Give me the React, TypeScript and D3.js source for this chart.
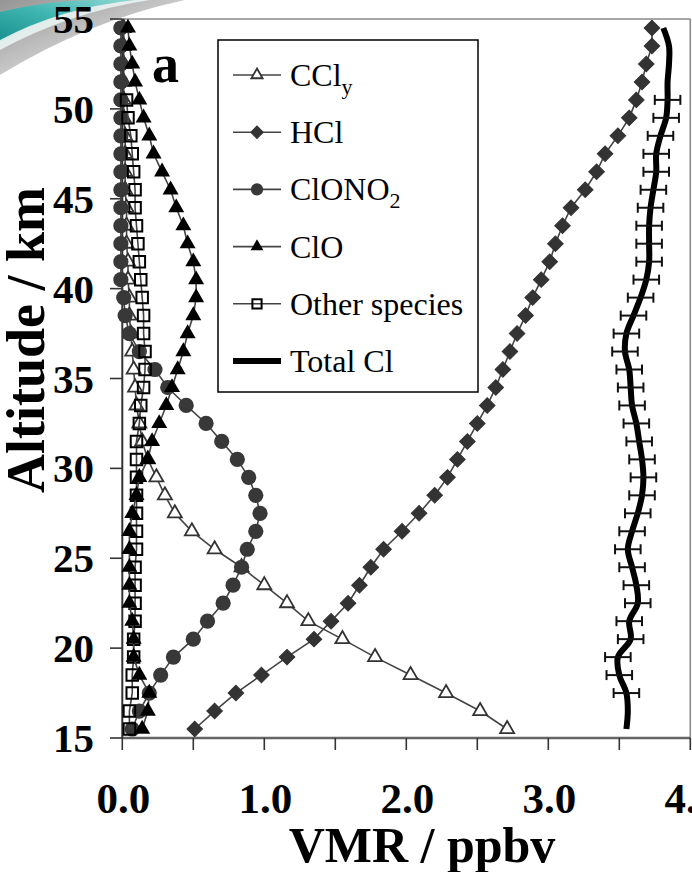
import React from "react";
import * as d3 from "d3";

const altitudes = [15.5, 16.5, 17.5, 18.5, 19.5, 20.5, 21.5, 22.5, 23.5, 24.5, 25.5, 26.5, 27.5, 28.5, 29.5, 30.5, 31.5, 32.5, 33.5, 34.5, 35.5, 36.5, 37.5, 38.5, 39.5, 40.5, 41.5, 42.5, 43.5, 44.5, 45.5, 46.5, 47.5, 48.5, 49.5, 50.5, 51.5, 52.5, 53.5, 54.5];

const ccly = [2.71, 2.52, 2.28, 2.03, 1.78, 1.55, 1.31, 1.16, 1.0, 0.84, 0.65, 0.49, 0.37, 0.3, 0.24, 0.18, 0.14, 0.12, 0.1, 0.09, 0.08, 0.07, 0.06, 0.05, 0.05, 0.04, 0.04, 0.03, 0.03, 0.03, 0.02, 0.02, 0.02, 0.02, 0.01, 0.01, 0.01, 0.01, 0.01, 0.01];
const hcl = [0.51, 0.65, 0.8, 0.98, 1.16, 1.35, 1.47, 1.59, 1.67, 1.75, 1.84, 1.97, 2.09, 2.2, 2.29, 2.36, 2.43, 2.5, 2.57, 2.63, 2.68, 2.73, 2.78, 2.84, 2.89, 2.95, 3.01, 3.05, 3.1, 3.16, 3.26, 3.34, 3.4, 3.49, 3.57, 3.62, 3.66, 3.69, 3.73, 3.73];
const clono2 = [0.07, 0.12, 0.19, 0.27, 0.36, 0.5, 0.6, 0.71, 0.78, 0.84, 0.88, 0.94, 0.97, 0.94, 0.89, 0.81, 0.7, 0.59, 0.45, 0.32, 0.23, 0.12, 0.05, 0.02, 0.01, -0.01, -0.01, -0.01, -0.01, -0.01, -0.01, -0.01, -0.01, -0.01, -0.01, -0.01, -0.01, -0.01, -0.01, -0.01];
const clo = [0.14, 0.18, 0.19, 0.12, 0.08, 0.08, 0.07, 0.05, 0.05, 0.05, 0.05, 0.05, 0.07, 0.1, 0.12, 0.18, 0.21, 0.26, 0.31, 0.35, 0.39, 0.43, 0.46, 0.5, 0.52, 0.52, 0.5, 0.46, 0.43, 0.38, 0.34, 0.28, 0.22, 0.19, 0.15, 0.12, 0.09, 0.07, 0.05, 0.04];
const otherAltitudes = altitudes.slice(0, 36);
const other = [0.05, 0.05, 0.07, 0.07, 0.08, 0.08, 0.09, 0.09, 0.09, 0.09, 0.1, 0.1, 0.1, 0.1, 0.1, 0.1, 0.1, 0.12, 0.13, 0.15, 0.16, 0.16, 0.15, 0.15, 0.14, 0.13, 0.12, 0.11, 0.1, 0.09, 0.09, 0.08, 0.07, 0.06, 0.04, 0.03];
const totalCl = [3.55, 3.56, 3.55, 3.5, 3.49, 3.58, 3.57, 3.63, 3.62, 3.59, 3.56, 3.59, 3.63, 3.66, 3.67, 3.66, 3.64, 3.62, 3.59, 3.58, 3.57, 3.54, 3.55, 3.6, 3.65, 3.69, 3.71, 3.71, 3.71, 3.72, 3.74, 3.76, 3.76, 3.79, 3.83, 3.84, 3.84, 3.85, 3.85, 3.81];
const totalErr = [0, 0, 0.09, 0.09, 0.09, 0.09, 0.09, 0.09, 0.09, 0.09, 0.09, 0.09, 0.09, 0.09, 0.09, 0.09, 0.09, 0.09, 0.09, 0.09, 0.09, 0.09, 0.09, 0.09, 0.09, 0.09, 0.09, 0.09, 0.09, 0.09, 0.09, 0.09, 0.09, 0.09, 0.09, 0.09, 0, 0, 0, 0];

const xTicks = [0, 1, 2, 3, 4];
const xTickLabels = ["0.0", "1.0", "2.0", "3.0", "4.0"];
const xMinorTicks = [0, 0.5, 1, 1.5, 2, 2.5, 3, 3.5, 4];
const yTicks = [15, 20, 25, 30, 35, 40, 45, 50, 55];

const legendItems = ["CCly", "HCl", "ClONO2", "ClO", "Other species", "Total Cl"];

const W = 692;
const H = 872;
const x = d3.scaleLinear().domain([0, 4]).range([122.3, 690.3]);
const y = d3.scaleLinear().domain([15, 55]).range([738, 19]);

const serif = "'Liberation Serif', 'Times New Roman', serif";

const triPath = (side: number) => d3.symbol(d3.symbolTriangle, (side * side * Math.sqrt(3)) / 4)() as string;
const sqPath = (side: number) => d3.symbol(d3.symbolSquare, side * side)() as string;

type Pt = [number, number];
const pts = (vals: number[], alts: number[]): Pt[] => vals.map((v, i) => [x(v), y(alts[i])]);

const straight = d3.line<Pt>().x((d) => d[0]).y((d) => d[1]);
const smooth = d3.line<Pt>().x((d) => d[0]).y((d) => d[1]).curve(d3.curveCatmullRom.alpha(0.5));

function Marker({ kind, cx, cy, small }: { kind: string; cx: number; cy: number; small?: boolean }) {
  const k = small ? 0.8 : 1;
  const t = `translate(${cx},${cy})`;
  if (kind === "CCly") return <path d={triPath(14 * k)} transform={t} fill="#fff" stroke="#333" strokeWidth={1.8} />;
  if (kind === "HCl") return <path d={sqPath(11 * k)} transform={`${t} rotate(45)`} fill="#333" stroke="#333" strokeWidth={1} />;
  if (kind === "ClONO2") return <circle cx={cx} cy={cy} r={7.6 * k} fill="#383838" />;
  if (kind === "ClO") return <path d={triPath(16 * k)} transform={t} fill="#000" />;
  if (kind === "Other species") return <path d={sqPath(11.5 * k)} transform={t} fill="none" stroke="#000" strokeWidth={2} />;
  return null;
}

function Series({ kind, vals, alts }: { kind: string; vals: number[]; alts: number[] }) {
  const p = pts(vals, alts);
  return (
    <g>
      <path d={straight(p) as string} fill="none" stroke="#444" strokeWidth={1.6} />
      {p.map((d, i) => (
        <Marker key={i} kind={kind} cx={d[0]} cy={d[1]} />
      ))}
    </g>
  );
}

export default function App() {
  const totalPts = pts(totalCl, altitudes);
  const legendTop = 75;
  const legendStep = 57.2;
  return (
    <svg width={W} height={H} viewBox={`0 0 ${W} ${H}`} style={{ position: "absolute", left: 0, top: 0, background: "#fff" }}>
      <defs>
        <linearGradient id="shade" x1="0" y1="0" x2="1" y2="1">
          <stop offset="0" stopColor="#7a7a7a" />
          <stop offset="0.6" stopColor="#c8c8c8" />
          <stop offset="1" stopColor="#ffffff" stopOpacity="0" />
        </linearGradient>
        <linearGradient id="teal" x1="0" y1="1" x2="1" y2="0">
          <stop offset="0" stopColor="#1a8f8f" />
          <stop offset="0.5" stopColor="#3fb5b0" />
          <stop offset="1" stopColor="#8fd8d4" />
        </linearGradient>
      </defs>
      <rect x={0} y={0} width={W} height={H} fill="#fff" />
      {/* decorative corner */}
      <path d="M0,0 L185,0 Q90,20 0,75 Z" fill="url(#shade)" opacity={0.8} />
      <path d="M0,12 Q50,0 95,0 L135,0 Q60,8 0,42 Z" fill="url(#teal)" />
      <path d="M0,40 Q60,8 135,0 L150,0 Q70,12 0,50 Z" fill="#e8f4f2" opacity={0.9} />

      {/* plot frame */}
      <line x1={x(0)} y1={y(55)} x2={x(4)} y2={y(55)} stroke="#8a8a8a" strokeWidth={1.6} />
      <line x1={x(4)} y1={y(55)} x2={x(4)} y2={y(15)} stroke="#8a8a8a" strokeWidth={1.6} />
      <line x1={x(0)} y1={y(15)} x2={x(4)} y2={y(15)} stroke="#666" strokeWidth={2.4} />
      <line x1={x(0)} y1={y(55)} x2={x(0)} y2={y(15)} stroke="#333" strokeWidth={2} />

      {/* ticks */}
      {yTicks.map((t) => (
        <line key={"yt" + t} x1={110} x2={x(0)} y1={y(t)} y2={y(t)} stroke="#333" strokeWidth={1.6} />
      ))}
      {xMinorTicks.map((t) => (
        <line key={"xt" + t} x1={x(t)} x2={x(t)} y1={y(15)} y2={y(15) + 12} stroke="#333" strokeWidth={1.6} />
      ))}
      {yTicks.map((t) => (
        <text key={"yl" + t} x={94} y={y(t) + 14} textAnchor="end" fontFamily={serif} fontWeight="bold" fontSize={41} fill="#000">
          {t}
        </text>
      ))}
      {xTicks.map((t, i) => (
        <text key={"xl" + t} x={x(t) + 1} y={813} textAnchor="middle" fontFamily={serif} fontWeight="bold" fontSize={43} fill="#000">
          {xTickLabels[i]}
        </text>
      ))}

      <text x={422} y={862} textAnchor="middle" fontFamily={serif} fontWeight="bold" fontSize={50} fill="#000">
        VMR / ppbv
      </text>
      <text transform="translate(44,340) rotate(-90)" textAnchor="middle" fontFamily={serif} fontWeight="bold" fontSize={54} fill="#000">
        Altitude / km
      </text>

      {/* series */}
      <Series kind="CCly" vals={ccly} alts={altitudes} />
      <Series kind="HCl" vals={hcl} alts={altitudes} />
      <Series kind="ClONO2" vals={clono2} alts={altitudes} />
      <Series kind="Other species" vals={other} alts={otherAltitudes} />
      <Series kind="ClO" vals={clo} alts={altitudes} />

      {/* total Cl */}
      <path d={smooth(totalPts) as string} fill="none" stroke="#000" strokeWidth={6} strokeLinejoin="round" />
      {totalPts.map((d, i) =>
        totalErr[i] > 0 ? (
          <g key={"e" + i} stroke="#111" strokeWidth={2}>
            <line x1={x(totalCl[i] - totalErr[i])} x2={x(totalCl[i] + totalErr[i])} y1={d[1]} y2={d[1]} />
            <line x1={x(totalCl[i] - totalErr[i])} x2={x(totalCl[i] - totalErr[i])} y1={d[1] - 5} y2={d[1] + 5} />
            <line x1={x(totalCl[i] + totalErr[i])} x2={x(totalCl[i] + totalErr[i])} y1={d[1] - 5} y2={d[1] + 5} />
          </g>
        ) : null
      )}

      {/* panel letter */}
      <text x={152} y={82} fontFamily={serif} fontWeight="bold" fontSize={54} fill="#000">
        a
      </text>

      {/* legend */}
      <rect x={218} y={40} width={260} height={352} fill="#fff" stroke="#000" strokeWidth={1.5} />
      {legendItems.map((name, i) => {
        const cy = legendTop + i * legendStep;
        const isTotal = name === "Total Cl";
        return (
          <g key={name}>
            <line x1={233} x2={281} y1={cy} y2={cy} stroke={isTotal ? "#000" : "#444"} strokeWidth={isTotal ? 6 : 1.6} />
            {!isTotal && <Marker kind={name} cx={257} cy={cy} small />}
            <text x={290} y={cy + 11} fontFamily={serif} fontSize={32} fill="#000">
              {name === "CCly" ? (
                <>
                  CCl<tspan fontSize={22} dy={8}>y</tspan>
                </>
              ) : name === "ClONO2" ? (
                <>
                  ClONO<tspan fontSize={22} dy={8}>2</tspan>
                </>
              ) : (
                name
              )}
            </text>
          </g>
        );
      })}
    </svg>
  );
}
